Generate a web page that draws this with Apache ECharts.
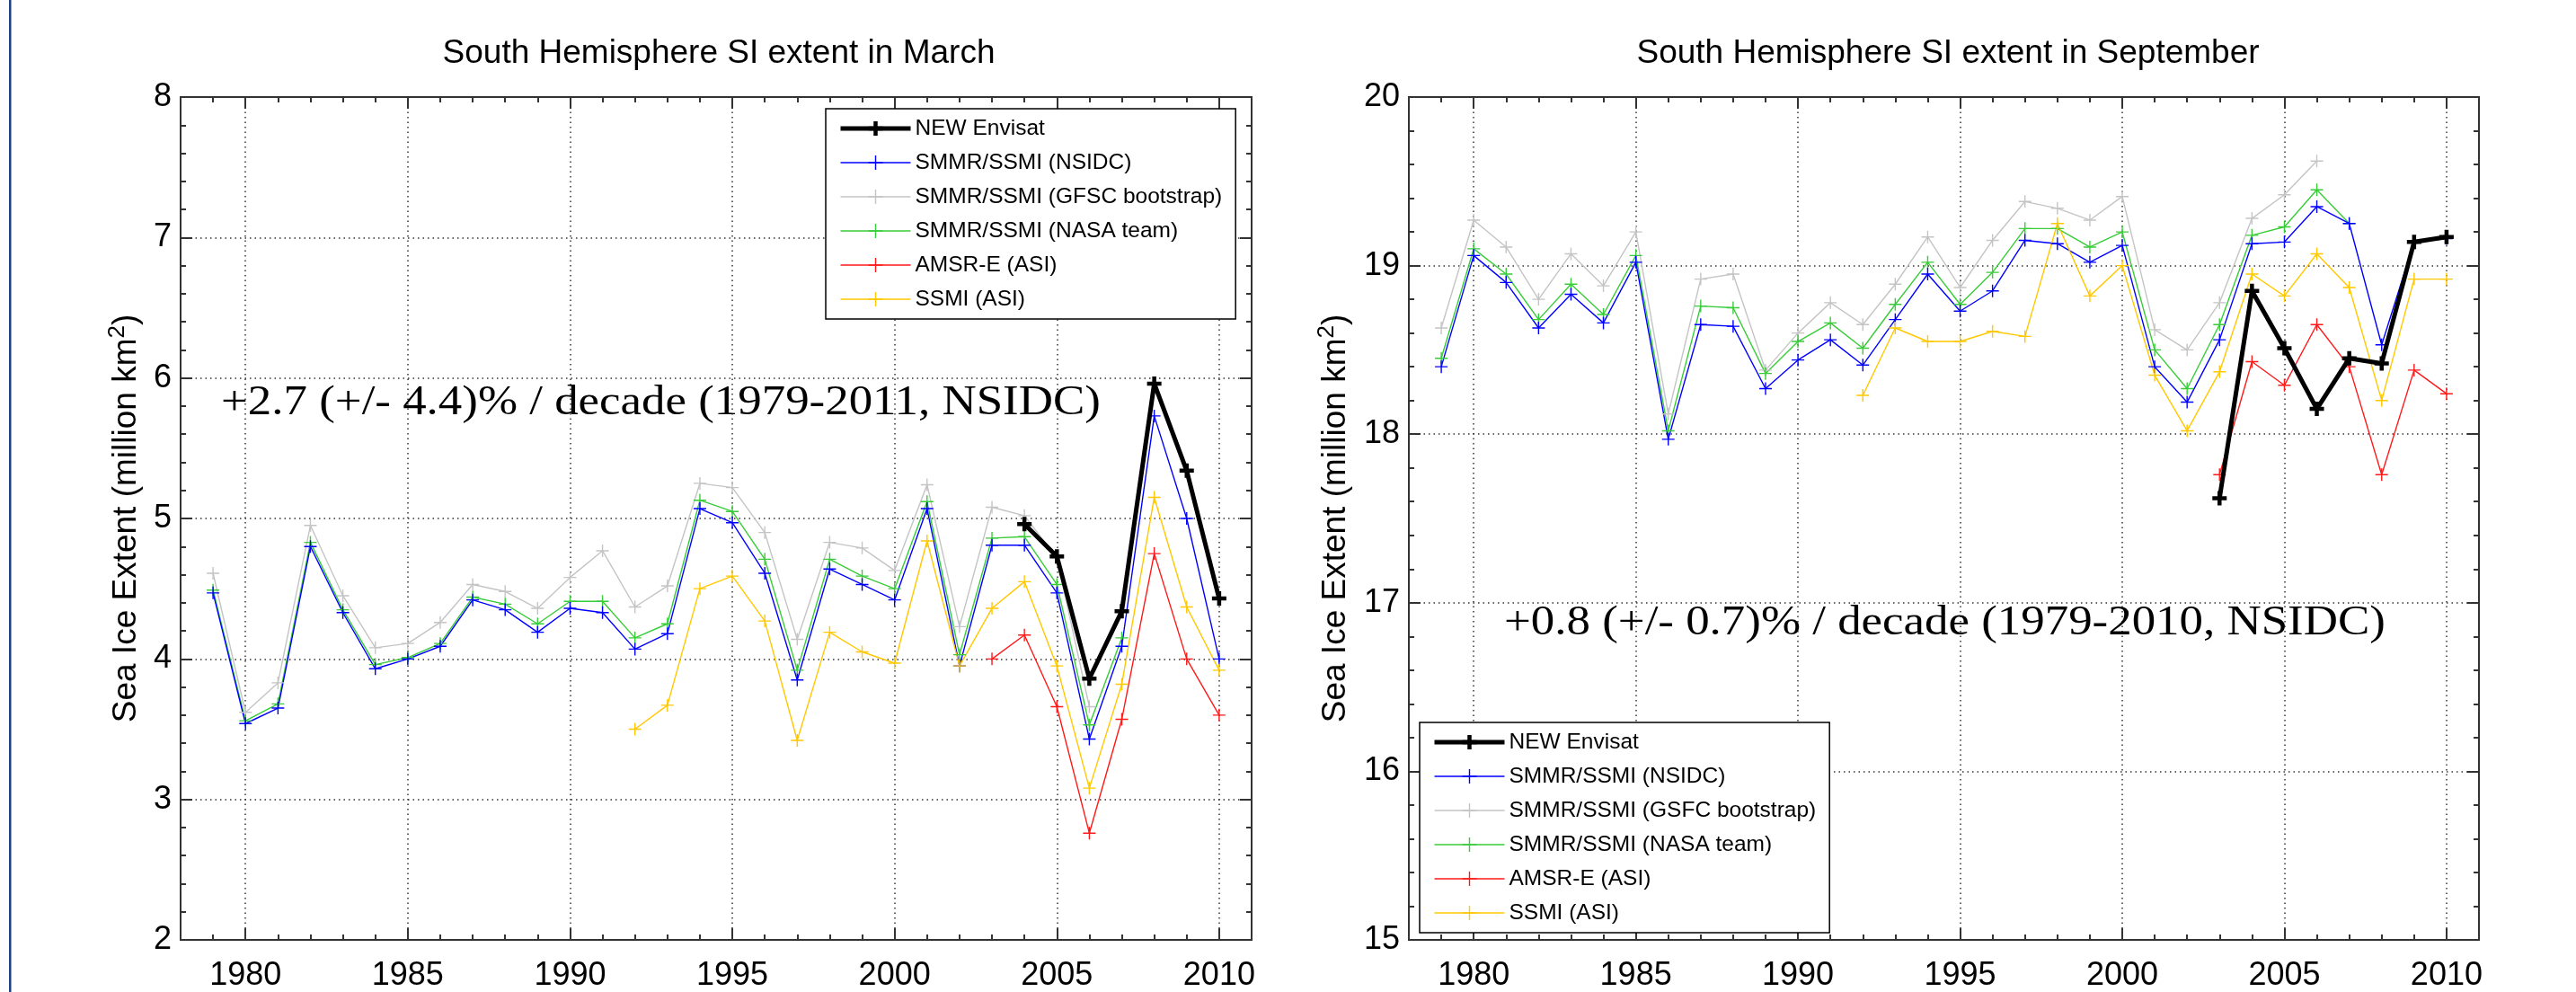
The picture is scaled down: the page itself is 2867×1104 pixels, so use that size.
<!DOCTYPE html>
<html>
<head>
<meta charset="utf-8">
<title>South Hemisphere SI extent</title>
<script src="https://cdn.jsdelivr.net/npm/echarts@6/dist/echarts.min.js"></script>
<style>
    html, body { margin: 0; padding: 0; background: #fff; }
    #main { width: 2867px; height: 1104px; }
</style>
</head>
<body>
<div id="main"></div>
<script>
// 数据年份
var years = [1979, 1980, 1981, 1982, 1983, 1984, 1985, 1986, 1987, 1988, 1989, 1990, 1991, 1992, 1993, 1994,
             1995, 1996, 1997, 1998, 1999, 2000, 2001, 2002, 2003, 2004, 2005, 2006, 2007, 2008, 2009, 2010];
// x轴刻度（1978-2011）
var axisYears = ['1978', '1979', '1980', '1981', '1982', '1983', '1984', '1985', '1986', '1987', '1988', '1989',
                 '1990', '1991', '1992', '1993', '1994', '1995', '1996', '1997', '1998', '1999', '2000', '2001',
                 '2002', '2003', '2004', '2005', '2006', '2007', '2008', '2009', '2010', '2011'];

// 三月
var envisatMar = [null, null, null, null, null, null, null, null, null, null, null, null, null, null, null, null,
                  null, null, null, null, null, null, null, null, null, 4.96, 4.73, 3.86, 4.34, 5.96, 5.34, 4.43];
var nsidcMar = [4.47, 3.54, 3.65, 4.80, 4.33, 3.93, 4.00, 4.09, 4.42, 4.35, 4.19, 4.36, 4.33, 4.07, 4.18, 5.07,
                4.97, 4.61, 3.85, 4.64, 4.53, 4.42, 5.07, 3.95, 4.81, 4.81, 4.47, 3.43, 4.09, 5.73, 5.00, 4.00];
var bootMar = [4.61, 3.62, 3.83, 4.95, 4.45, 4.08, 4.11, 4.26, 4.53, 4.48, 4.36, 4.58, 4.77, 4.37, 4.52, 5.25,
               5.22, 4.90, 4.14, 4.83, 4.79, 4.63, 5.24, 4.23, 5.08, 5.02, 4.72, 3.66, null, null, null, null];
var nasaMar = [4.49, 3.56, 3.68, 4.83, 4.35, 3.96, 4.01, 4.11, 4.44, 4.39, 4.25, 4.41, 4.41, 4.15, 4.25, 5.13,
               5.05, 4.71, 3.92, 4.71, 4.59, 4.50, 5.12, 4.03, 4.86, 4.87, 4.53, 3.53, 4.15, null, null, null];
var amsrMar = [null, null, null, null, null, null, null, null, null, null, null, null, null, null, null, null,
               null, null, null, null, null, null, null, null, 4.00, 4.17, 3.66, 2.76, 3.57, 4.75, 4.00, 3.60];
var ssmiMar = [null, null, null, null, null, null, null, null, null, null, null, null, null, 3.50, 3.67, 4.50,
               4.59, 4.27, 3.42, 4.19, 4.05, 3.97, 4.84, 3.95, 4.36, 4.55, 3.95, 3.08, 3.82, 5.15, 4.37, 3.92];

// 九月
var envisatSep = [null, null, null, null, null, null, null, null, null, null, null, null, null, null, null, null,
                  null, null, null, null, null, null, null, null, 17.62, 18.85, 18.51, 18.15, 18.45, 18.42, 19.14, 19.17];
var nsidcSep = [18.40, 19.06, 18.90, 18.63, 18.83, 18.66, 19.02, 17.97, 18.65, 18.64, 18.27, 18.44, 18.56, 18.41, 18.68, 18.95,
                18.73, 18.85, 19.15, 19.13, 19.02, 19.12, 18.40, 18.19, 18.56, 19.13, 19.14, 19.35, 19.25, 18.53, 19.14, 19.16];
var bootSep = [18.63, 19.27, 19.11, 18.80, 19.07, 18.88, 19.20, 18.12, 18.92, 18.95, 18.38, 18.60, 18.78, 18.65, 18.89, 19.17,
               18.87, 19.15, 19.38, 19.34, 19.27, 19.41, 18.62, 18.50, 18.78, 19.28, 19.42, 19.62, null, null, null, null];
var nasaSep = [18.45, 19.10, 18.95, 18.68, 18.89, 18.71, 19.06, 18.02, 18.76, 18.75, 18.36, 18.55, 18.66, 18.51, 18.77, 19.02,
               18.77, 18.96, 19.22, 19.22, 19.11, 19.20, 18.50, 18.27, 18.65, 19.18, 19.23, 19.45, 19.25, null, null, null];
var amsrSep = [null, null, null, null, null, null, null, null, null, null, null, null, null, null, null, null,
               null, null, null, null, null, null, null, null, 17.76, 18.43, 18.29, 18.65, 18.40, 17.76, 18.38, 18.24];
var ssmiSep = [null, null, null, null, null, null, null, null, null, null, null, null, null, 18.23, 18.63, 18.55,
               18.55, 18.61, 18.58, 19.25, 18.82, 19.00, 18.35, 18.02, 18.37, 18.95, 18.82, 19.07, 18.87, 18.20, 18.92, 18.92];

// 图例名称（两图的 bootstrap 写法不同）
var namesMar = ['NEW Envisat', 'SMMR/SSMI (NSIDC)', 'SMMR/SSMI (GFSC bootstrap)', 'SMMR/SSMI (NASA team)', 'AMSR-E (ASI)', 'SSMI (ASI)'];
var namesSep = ['NEW Envisat', 'SMMR/SSMI (NSIDC)', 'SMMR/SSMI (GSFC bootstrap)', 'SMMR/SSMI (NASA team)', 'AMSR-E (ASI)', 'SSMI (ASI)'];
var colors = ['#000000', '#0000ff', '#c4c4c4', '#38cc38', '#ff1a1a', '#ffc800'];

var sans = 'Liberation Sans';
var serif = 'Liberation Serif';
var plus = 'path://M7,0L7,14M0,7L14,7';
var tickStyle = { color: '#333', width: 2 };
var gridStyle = { color: '#333', width: 1.5, type: [1.5, 4] };

function isMajor(index, value) {
    return Number(value) % 5 === 0;
}

// 去掉空值
function pairs(arr) {
    var out = [];
    for (var i = 0; i < years.length; i++) {
        if (arr[i] != null) out.push([years[i], arr[i]]);
    }
    return out;
}

function makeSeries(name, color, arr, xi, yi, bold) {
    return {
        name: name,
        type: 'line',
        xAxisIndex: xi,
        yAxisIndex: yi,
        data: pairs(arr),
        symbol: plus,
        symbolSize: bold ? 16 : 14,
        symbolKeepAspect: true,
        showAllSymbol: true,
        lineStyle: { color: color, width: bold ? 5 : 1.4 },
        itemStyle: { color: color, borderColor: color, borderWidth: bold ? 4.5 : 1.4 },
        emphasis: { disabled: true },
        z: bold ? 5 : 2
    };
}

// x轴：数值轴画小刻度，类目轴画主刻度、标签、网格
function xAxes(gi) {
    var list = [];
    ['bottom', 'top'].forEach(function (pos) {
        list.push({
            type: 'value', gridIndex: gi, position: pos, min: 1978, max: 2011, interval: 1,
            axisLine: { show: false, onZero: false },
            axisLabel: { show: false },
            splitLine: { show: false },
            axisTick: { inside: true, length: 6, lineStyle: tickStyle }
        });
        list.push({
            type: 'category', gridIndex: gi, position: pos, data: axisYears, boundaryGap: false,
            axisLine: { show: false, onZero: false },
            axisTick: { inside: true, length: 13, interval: isMajor, lineStyle: tickStyle },
            axisLabel: { show: pos === 'bottom', interval: isMajor, fontSize: 36, color: '#000', fontFamily: sans, margin: 22 },
            splitLine: { show: pos === 'bottom', interval: isMajor, lineStyle: gridStyle }
        });
    });
    return list;
}

function yAxes(gi, min, max, nameGap) {
    return [{
        type: 'value', gridIndex: gi, position: 'left', min: min, max: max, interval: 1,
        name: 'Sea Ice Extent (million km{sup|2})',
        nameLocation: 'middle', nameRotate: 90, nameGap: nameGap,
        nameTextStyle: {
            fontSize: 37, fontFamily: sans, color: '#000', lineHeight: 46,
            rich: { sup: { fontSize: 26, fontFamily: sans, color: '#000', verticalAlign: 'top' } }
        },
        axisLine: { show: false },
        axisTick: { inside: true, length: 13, lineStyle: tickStyle },
        minorTick: { show: true, splitNumber: 5, length: 6, lineStyle: tickStyle },
        axisLabel: { fontSize: 36, color: '#000', fontFamily: sans, margin: 10 },
        splitLine: { show: true, lineStyle: gridStyle }
    }, {
        type: 'value', gridIndex: gi, position: 'right', min: min, max: max, interval: 1,
        axisLine: { show: false },
        axisTick: { inside: true, length: 13, lineStyle: tickStyle },
        minorTick: { show: true, splitNumber: 5, length: 6, lineStyle: tickStyle },
        axisLabel: { show: false },
        splitLine: { show: false }
    }];
}

function legendBox(names, left, top) {
    var items = names.map(function (n, k) {
        if (k === 0) {
            return { name: n, lineStyle: { width: 5 }, itemStyle: { borderWidth: 4.5 } };
        }
        return { name: n, lineStyle: { width: 1.4 }, itemStyle: { borderWidth: 1.4 } };
    });
    return {
        data: items,
        orient: 'vertical',
        left: left,
        top: top,
        itemWidth: 78,
        itemHeight: 20,
        itemGap: 10,
        padding: [8, 15, 8, 14],
        backgroundColor: '#fff',
        borderColor: '#000',
        borderWidth: 1.5,
        borderRadius: 0,
        selectedMode: false,
        textStyle: { fontSize: 24.5, fontFamily: sans, color: '#000', lineHeight: 28 }
    };
}

var marSets = [envisatMar, nsidcMar, bootMar, nasaMar, amsrMar, ssmiMar];
var sepSets = [envisatSep, nsidcSep, bootSep, nasaSep, amsrSep, ssmiSep];
var series = [];
// 先画细线，最后画 Envisat 粗线
[2, 3, 1, 4, 5, 0].forEach(function (k) {
    series.push(makeSeries(namesMar[k], colors[k], marSets[k], 0, 0, k === 0));
});
[2, 3, 1, 4, 5, 0].forEach(function (k) {
    series.push(makeSeries(namesSep[k], colors[k], sepSets[k], 4, 2, k === 0));
});

var option = {
    animation: false,
    backgroundColor: '#fff',
    grid: [
        { left: 201, top: 108, width: 1192, height: 941, show: true, borderColor: '#333', borderWidth: 2, backgroundColor: 'transparent' },
        { left: 1568, top: 108, width: 1191, height: 941, show: true, borderColor: '#333', borderWidth: 2, backgroundColor: 'transparent' }
    ],
    xAxis: xAxes(0).concat(xAxes(1)),
    yAxis: yAxes(0, 2, 8, 37).concat(yAxes(1, 15, 20, 58)),
    legend: [legendBox(namesMar, 919, 121), legendBox(namesSep, 1580, 804)],
    series: series,
    graphic: [
        { type: 'rect', shape: { x: 10, y: 0, width: 2.5, height: 1104 }, style: { fill: '#1b4282' } },
        { type: 'text', x: 800, y: 60, style: { text: 'South Hemisphere SI extent in March', fontSize: 37, fontFamily: sans, fill: '#000', align: 'center', verticalAlign: 'middle' } },
        { type: 'text', x: 2168, y: 60, style: { text: 'South Hemisphere SI extent in September', fontSize: 37, fontFamily: sans, fill: '#000', align: 'center', verticalAlign: 'middle' } },
        { type: 'text', x: 246, y: 449, scaleX: 1.15, z: 10, style: { text: '+2.7 (+/- 4.4)% / decade (1979-2011, NSIDC)', fontSize: 46, fontFamily: serif, fill: '#000', align: 'left', verticalAlign: 'middle' } },
        { type: 'text', x: 1674, y: 694, scaleX: 1.15, z: 10, style: { text: '+0.8 (+/- 0.7)% / decade (1979-2010, NSIDC)', fontSize: 46, fontFamily: serif, fill: '#000', align: 'left', verticalAlign: 'middle' } }
    ]
};

var myChart = echarts.init(document.getElementById('main'));
myChart.setOption(option, true);
</script>
</body>
</html>
